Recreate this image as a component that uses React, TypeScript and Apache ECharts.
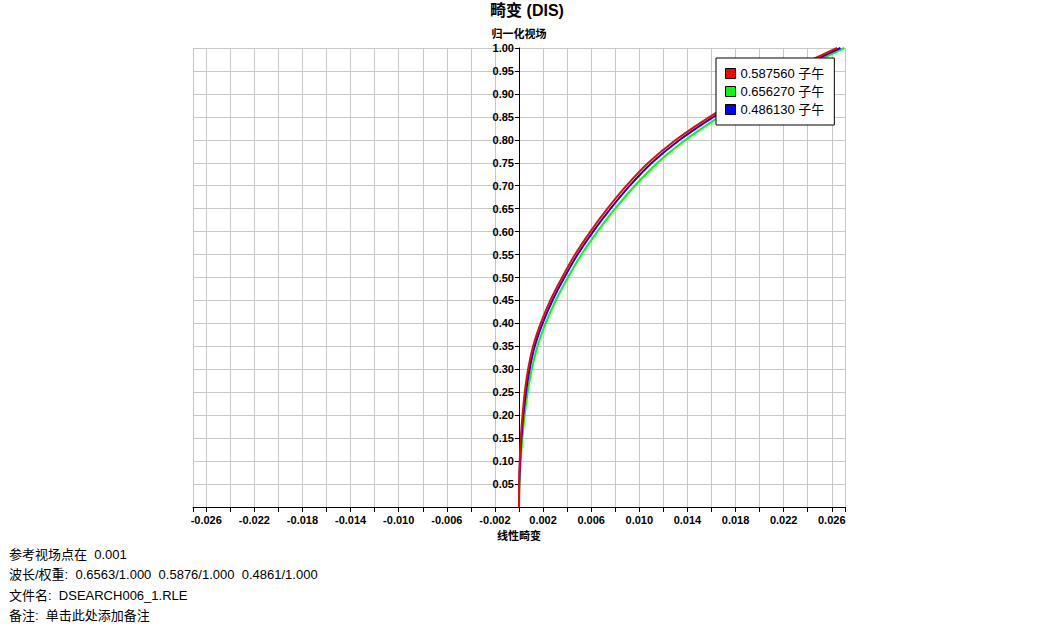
import React, { useEffect, useRef } from "react";
import * as echarts from "echarts";

const FONT = "'Liberation Sans', Arial, 'Noto Sans CJK SC', sans-serif";

const fieldY = [0, 0.05, 0.1, 0.15, 0.2, 0.25, 0.3, 0.35, 0.4, 0.45, 0.5, 0.55, 0.6, 0.65, 0.7, 0.75, 0.8, 0.85, 0.9, 0.95, 1.0];

const redDist = [0, 0.00001, 0.00006, 0.00015, 0.00029, 0.00048, 0.00076, 0.00117, 0.0018, 0.0026, 0.00358, 0.00466, 0.00593, 0.00735, 0.00893, 0.01075, 0.01305, 0.01585, 0.019, 0.02245, 0.02644];
const greenDist = [0, 0.00004, 0.00014, 0.00028, 0.00047, 0.00072, 0.00106, 0.00153, 0.00221, 0.00305, 0.00406, 0.00519, 0.00651, 0.00799, 0.00963, 0.01151, 0.01385, 0.01665, 0.01975, 0.02313, 0.02704];
const blueDist = [0, 0.00002, 0.00009, 0.0002, 0.00036, 0.00058, 0.00088, 0.00131, 0.00196, 0.00278, 0.00377, 0.00487, 0.00616, 0.00761, 0.00921, 0.01105, 0.01337, 0.01617, 0.0193, 0.02272, 0.02672];

const seriesNames = ["0.587560 子午", "0.656270 子午", "0.486130 子午"];
const seriesColors = ["#ff0000", "#00ff00", "#0000ff"];

const xMin = -0.0271;
const xMax = 0.0271;

const xTickValues = [
  -0.0271, -0.026, -0.024, -0.022, -0.02, -0.018, -0.016, -0.014, -0.012, -0.01, -0.008, -0.006, -0.004, -0.002, 0,
  0.002, 0.004, 0.006, 0.008, 0.01, 0.012, 0.014, 0.016, 0.018, 0.02, 0.022, 0.024, 0.026, 0.0271,
];
const xLabelValues = [-0.026, -0.022, -0.018, -0.014, -0.01, -0.006, -0.002, 0.002, 0.006, 0.01, 0.014, 0.018, 0.022, 0.026];

const footerLines = [
  "参考视场点在  0.001",
  "波长/权重:  0.6563/1.000  0.5876/1.000  0.4861/1.000",
  "文件名:  DSEARCH006_1.RLE",
  "备注:  单击此处添加备注",
];

export default function App() {
  const ref = useRef<HTMLDivElement>(null);
  useEffect(() => {
    if (!ref.current) return;
    const chart = echarts.init(ref.current, null, { renderer: "svg" });
    const dists = [redDist, greenDist, blueDist];
    const zs = [3, 1, 2];
    const series = dists.map((d, i) => ({
      name: seriesNames[i],
      type: "line",
      data: fieldY.map((y, j) => [d[j], y]),
      smooth: 0.3,
      showSymbol: false,
      symbol: "none",
      z: zs[i],
      lineStyle: { color: seriesColors[i], width: 2 },
      itemStyle: { color: seriesColors[i], borderColor: "#000", borderWidth: 1 },
    }));
    const gridLeft = 193;
    const gridRight = 209;
    const plotW = 1054 - gridLeft - gridRight;
    const zeroOffset = -((0 - xMin) / (xMax - xMin)) * plotW;
    chart.setOption({
      animation: false,
      title: {
        text: "畸变 (DIS)",
        left: "center",
        top: -3,
        textStyle: { fontSize: 16, fontWeight: "bold", color: "#000", fontFamily: FONT },
      },
      legend: {
        orient: "vertical",
        left: 716,
        top: 58,
        z: 10,
        padding: [9, 10, 9, 9],
        itemGap: 5,
        itemWidth: 10,
        itemHeight: 10,
        icon: "rect",
        borderColor: "#000",
        borderWidth: 1,
        borderRadius: 0,
        backgroundColor: "#fff",
        textStyle: { fontSize: 13, color: "#000", fontFamily: FONT },
        itemStyle: { borderColor: "#000", borderWidth: 1 },
        data: seriesNames,
      },
      grid: { left: gridLeft, right: gridRight, top: 48, bottom: 121, outerBoundsMode: "none", containLabel: false },
      xAxis: {
        type: "value",
        min: xMin,
        max: xMax,
        name: "线性畸变",
        nameLocation: "middle",
        nameGap: 23,
        nameTextStyle: { fontSize: 11, fontWeight: "bold", color: "#000", fontFamily: FONT },
        axisLine: { onZero: false, lineStyle: { color: "#000", width: 1 } },
        axisTick: { show: true, length: 5, customValues: xTickValues, lineStyle: { color: "#000" } },
        axisLabel: {
          customValues: xLabelValues,
          margin: 7,
          fontSize: 11,
          fontWeight: "bold",
          color: "#000",
          fontFamily: FONT,
          hideOverlap: false,
          formatter: (v: number) => v.toFixed(3),
        },
        splitLine: { show: true, lineStyle: { color: "#c8c8c8", width: 1 } },
      },
      yAxis: {
        type: "value",
        min: 0,
        max: 1,
        interval: 0.05,
        offset: zeroOffset,
        name: "归一化视场",
        nameLocation: "end",
        nameGap: 9,
        nameTextStyle: { fontSize: 11, fontWeight: "bold", color: "#000", fontFamily: FONT, align: "center", verticalAlign: "bottom" },
        axisLine: { show: true, onZero: false, lineStyle: { color: "#000", width: 1 } },
        axisTick: { show: true, length: 4, lineStyle: { color: "#000" } },
        axisLabel: {
          margin: 5,
          fontSize: 11,
          fontWeight: "bold",
          color: "#000",
          fontFamily: FONT,
          formatter: (v: number) => (v === 0 ? "" : v.toFixed(2)),
        },
        splitLine: { show: true, lineStyle: { color: "#c8c8c8", width: 1 } },
      },
      graphic: footerLines.map((t, i) => ({
        type: "text",
        left: 9,
        top: 548 + i * 20.3,
        style: { text: t, fontSize: 13, fill: "#000", fontFamily: FONT },
      })),
      series,
    });
    return () => chart.dispose();
  }, []);
  return <div ref={ref} style={{ position: "absolute", left: 0, top: 0, width: 1054, height: 628 }} />;
}
